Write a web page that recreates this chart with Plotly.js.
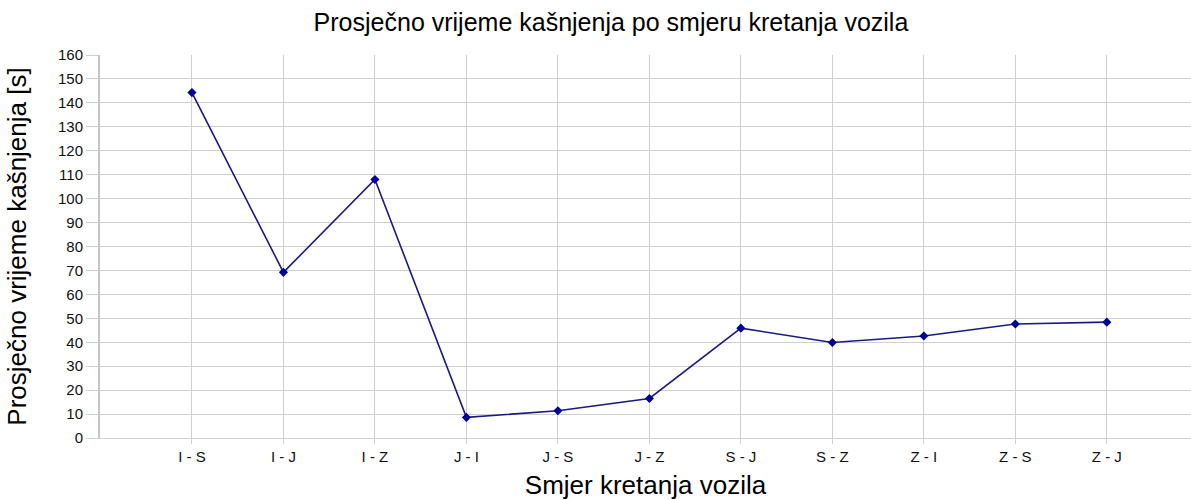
<!DOCTYPE html>
<html>
<head>
<meta charset="utf-8">
<script src="https://cdn.plot.ly/plotly-3.0.1.min.js"></script>
<style>html,body{margin:0;padding:0;background:#fff;}#chart{width:1191px;height:500px;}</style>
</head>
<body>
<div id="chart"></div>
<script>
const categories = ["I - S", "I - J", "I - Z", "J - I", "J - S", "J - Z", "S - J", "S - Z", "Z - I", "Z - S", "Z - J"];
const delays = [144.3, 69.2, 108.0, 8.6, 11.4, 16.5, 45.9, 39.9, 42.6, 47.6, 48.4];
const yTicks = [0, 10, 20, 30, 40, 50, 60, 70, 80, 90, 100, 110, 120, 130, 140, 150, 160];

const trace = {
  x: categories.map((c, i) => i),
  y: delays,
  type: 'scatter',
  mode: 'lines+markers',
  line: {color: '#1a1a80', width: 1.6},
  marker: {symbol: 'diamond', size: 7, color: '#000099'},
  hoverinfo: 'skip'
};

const font = 'Liberation Sans, Arial, sans-serif';
const layout = {
  width: 1191, height: 500,
  margin: {l: 100, r: 0, t: 55, b: 62},
  paper_bgcolor: '#fff', plot_bgcolor: '#fff',
  showlegend: false,
  title: {text: 'Prosječno vrijeme kašnjenja po smjeru kretanja vozila', font: {family: font, size: 25, color: '#000'}, x: 0.513, xanchor: 'center', y: 0.955, yanchor: 'middle'},
  xaxis: {
    range: [-1.005, 10.92],
    tickmode: 'array',
    tickvals: categories.map((c, i) => i),
    ticktext: categories,
    showgrid: true, gridcolor: '#cfcfcf', gridwidth: 1,
    ticks: 'outside', ticklen: 5, tickcolor: '#cfcfcf',
    showline: true, linecolor: '#cfcfcf', linewidth: 1,
    zeroline: false,
    tickfont: {family: font, size: 15, color: '#111'},
    title: {text: 'Smjer kretanja vozila', font: {family: font, size: 26, color: '#000'}, standoff: 11},
    fixedrange: true
  },
  yaxis: {
    range: [0, 160],
    tickmode: 'array',
    tickvals: yTicks,
    ticktext: yTicks.map(String),
    showgrid: true, gridcolor: '#cfcfcf', gridwidth: 1,
    ticks: 'outside', ticklen: 12, tickcolor: '#cfcfcf',
    showline: true, linecolor: '#c4c4c4', linewidth: 2,
    zeroline: false,
    tickfont: {family: font, size: 15, color: '#111'},
    title: {text: 'Prosječno vrijeme kašnjenja [s]', font: {family: font, size: 26, color: '#000'}, standoff: 24},
    fixedrange: true
  }
};

Plotly.newPlot('chart', [trace], layout, {displayModeBar: false, staticPlot: true});
</script>
</body>
</html>
